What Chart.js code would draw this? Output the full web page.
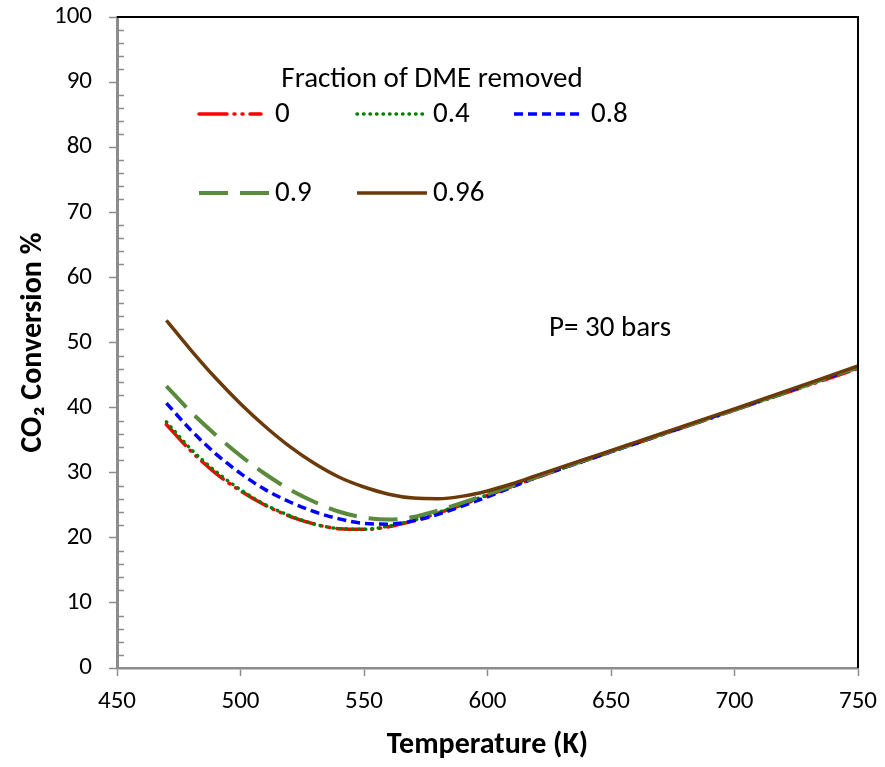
<!DOCTYPE html>
<html>
<head>
<meta charset="utf-8">
<title>CO2 conversion vs temperature</title>
<script src="https://cdn.jsdelivr.net/npm/chart.js@4.4.1/dist/chart.umd.min.js"></script>
<style>
  html, body { margin: 0; padding: 0; background: #fff; }
  #chart { display: block; }
</style>
</head>
<body>
<canvas id="chart" width="885" height="767"></canvas>
<script>
const temps = [470, 480, 490, 500, 510, 520, 530, 540, 550, 560, 570, 580, 590, 600, 610, 620, 650, 700, 750];

// CO2 conversion (%) for each fraction of DME removed
const conv0    = [37.4, 33.3, 29.9, 27.2, 25.0, 23.3, 22.1, 21.4, 21.3, 21.7, 22.6, 23.8, 25.1, 26.5, 27.9, 29.3, 33.2, 39.6, 46.0];
const conv04   = [37.8, 33.6, 30.2, 27.4, 25.1, 23.4, 22.1, 21.4, 21.3, 21.8, 22.7, 23.9, 25.2, 26.6, 28.0, 29.3, 33.2, 39.6, 46.1];
const conv08   = [40.7, 36.5, 32.9, 29.9, 27.4, 25.5, 24.0, 22.9, 22.2, 22.1, 22.6, 23.6, 24.9, 26.3, 27.8, 29.3, 33.2, 39.7, 46.2];
const conv09   = [43.3, 39.3, 35.8, 32.6, 29.8, 27.4, 25.5, 24.0, 23.1, 22.8, 23.2, 24.2, 25.4, 26.7, 28.0, 29.4, 33.3, 39.7, 46.2];
const conv096  = [53.4, 48.8, 44.5, 40.6, 37.1, 34.0, 31.4, 29.3, 27.8, 26.7, 26.1, 26.0, 26.4, 27.2, 28.3, 29.6, 33.4, 39.8, 46.4];

const seriesLabels = ['0', '0.4', '0.8', '0.9', '0.96'];
const xTicks = [450, 500, 550, 600, 650, 700, 750];
const yTicks = [0, 10, 20, 30, 40, 50, 60, 70, 80, 90, 100];

const FONT = "Carlito, Calibri, Lato, sans-serif";

function pts(ys) {
  return temps.map((t, i) => ({ x: t, y: ys[i] }));
}

const styles = [
  { color: '#ff0000', dash: [28, 7, 1, 7, 1, 7], cap: 'round', width: 3.5, order: 5 },
  { color: '#008000', dash: [0.5, 6], cap: 'round', width: 3.5, order: 4 },
  { color: '#0000ff', dash: [9, 5], cap: 'butt', width: 3.5, order: 3 },
  { color: '#5a8a3c', dash: [29, 12], cap: 'butt', width: 4, order: 2 },
  { color: '#6b3a08', dash: [], cap: 'butt', width: 3.5, order: 1 }
];

const allSeries = [conv0, conv04, conv08, conv09, conv096];

const datasets = allSeries.map((ys, i) => ({
  label: seriesLabels[i],
  data: pts(ys),
  borderColor: styles[i].color,
  backgroundColor: styles[i].color,
  borderWidth: styles[i].width,
  borderDash: styles[i].dash,
  borderCapStyle: styles[i].cap,
  pointRadius: 0,
  cubicInterpolationMode: 'monotone',
  fill: false,
  order: styles[i].order
}));

// minor ticks on the y axis, frame on top/right, legend and note
const decorations = {
  id: 'decorations',
  afterDraw(chart) {
    const ctx = chart.ctx;
    const area = chart.chartArea;
    const ys = chart.scales.y;
    ctx.save();

    // minor y ticks (inside)
    ctx.strokeStyle = '#8c8c8c';
    ctx.lineWidth = 1.5;
    for (let v = 2; v < 100; v += 2) {
      if (v % 10 === 0) continue;
      const py = Math.round(ys.getPixelForValue(v)) + 0.5;
      ctx.beginPath();
      ctx.moveTo(area.left, py);
      ctx.lineTo(area.left + 7, py);
      ctx.stroke();
    }

    // top and right frame
    ctx.strokeStyle = '#000';
    ctx.lineWidth = 2;
    ctx.beginPath();
    ctx.moveTo(area.left, area.top);
    ctx.lineTo(area.right, area.top);
    ctx.lineTo(area.right, area.bottom);
    ctx.stroke();

    // legend
    ctx.fillStyle = '#000';
    ctx.font = '29px ' + FONT;
    ctx.textBaseline = 'middle';
    ctx.textAlign = 'center';
    ctx.fillText('Fraction of DME removed', 432, 80);

    const slots = [
      { x: 199, y: 114, w: 62 }, { x: 357, y: 114, w: 70 }, { x: 514, y: 114, w: 70 },
      { x: 199, y: 193, w: 70 }, { x: 357, y: 193, w: 70 }
    ];
    ctx.textAlign = 'left';
    chart.data.datasets.forEach((ds, i) => {
      const s = slots[i];
      ctx.save();
      ctx.strokeStyle = ds.borderColor;
      ctx.lineWidth = ds.borderWidth;
      ctx.lineCap = ds.borderCapStyle;
      ctx.setLineDash(ds.borderDash);
      ctx.beginPath();
      ctx.moveTo(s.x, s.y);
      ctx.lineTo(s.x + s.w, s.y);
      ctx.stroke();
      ctx.restore();
      const lx = i === 2 ? 591 : (i % 3 === 0 ? 275 : 433);
      ctx.fillText(ds.label, lx, s.y + 1);
    });

    ctx.textAlign = 'center';
    ctx.fillText('P= 30 bars', 610, 329);
    ctx.restore();
  }
};

const chart = new Chart(document.getElementById('chart'), {
  type: 'line',
  data: { datasets: datasets },
  options: {
    responsive: false,
    animation: false,
    layout: { padding: { top: 17, right: 27, left: 0, bottom: 0 } },
    plugins: {
      legend: { display: false },
      tooltip: { enabled: false }
    },
    scales: {
      x: {
        type: 'linear',
        min: 450,
        max: 750,
        afterBuildTicks(scale) {
          scale.ticks = xTicks.map(v => ({ value: v }));
        },
        afterFit(scale) {
          scale.height = 99;
          scale.paddingLeft = 0;
          scale.paddingRight = 0;
        },
        grid: {
          drawOnChartArea: false,
          drawTicks: true,
          tickLength: 8,
          tickColor: '#8c8c8c',
          tickWidth: 1.5
        },
        border: { color: '#8c8c8c', width: 2.5 },
        ticks: {
          color: '#000',
          padding: 11,
          maxRotation: 0,
          font: { family: FONT, size: 25 }
        },
        title: {
          display: true,
          text: 'Temperature (K)',
          color: '#000',
          font: { family: FONT, size: 30, weight: 'bold' },
          padding: { top: 0, bottom: 4 }
        }
      },
      y: {
        type: 'linear',
        min: 0,
        max: 100,
        afterBuildTicks(scale) {
          scale.ticks = yTicks.map(v => ({ value: v }));
        },
        afterFit(scale) {
          scale.width = 117;
          scale.paddingTop = 0;
          scale.paddingBottom = 0;
        },
        grid: {
          drawOnChartArea: false,
          drawTicks: true,
          tickLength: 8,
          tickColor: '#8c8c8c',
          tickWidth: 1.5
        },
        border: { color: '#8c8c8c', width: 3 },
        ticks: {
          color: '#000',
          padding: 17,
          font: { family: FONT, size: 25 }
        },
        title: {
          display: true,
          text: 'CO₂ Conversion %',
          color: '#000',
          font: { family: FONT, size: 30, weight: 'bold' },
          padding: { top: 15, bottom: 0 }
        }
      }
    }
  },
  plugins: [decorations]
});
</script>
</body>
</html>
